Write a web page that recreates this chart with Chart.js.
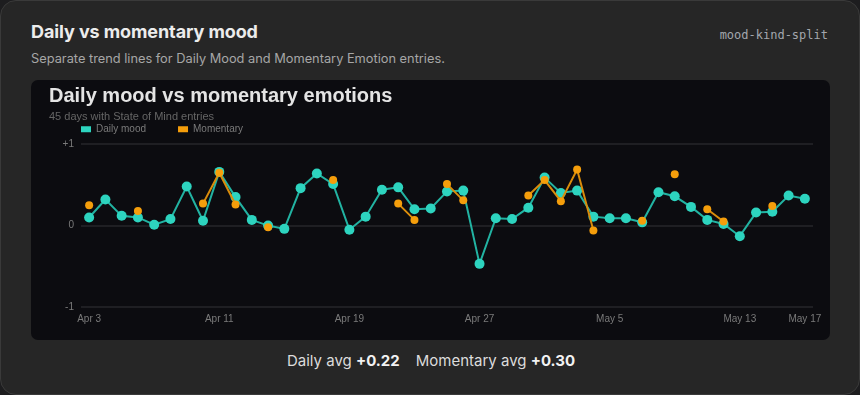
<!DOCTYPE html>
<html>
<head>
<meta charset="utf-8">
<script src="https://cdn.jsdelivr.net/npm/chart.js@4.4.1/dist/chart.umd.min.js"></script>
<style>
  html, body { margin: 0; padding: 0; background: #1d1d1f; }
  body { width: 860px; height: 395px; overflow: hidden; position: relative; font-family: Inter, "Noto Sans", sans-serif; }
  .card {
    position: absolute; left: 0; top: 0; width: 858px; height: 393px;
    background: #262626; border: 1px solid #3a3a3a; border-radius: 16px;
  }
  .head { position: absolute; left: 30px; top: 20px; font-size: 18px; font-weight: 700; color: #ececec; letter-spacing: -0.1px; }
  .tag { position: absolute; right: 31px; top: 27px; font-family: "DejaVu Sans Mono", monospace; font-size: 12px; color: #a3a6ad; }
  .sub { position: absolute; left: 30px; top: 50px; font-size: 12.8px; color: #a6a6a6; }
  .box {
    position: absolute; left: 30px; top: 79px; width: 799px; height: 260px;
    background: #0c0c10; border-radius: 7px;
  }
  .avg { position: absolute; left: 0; width: 860px; top: 350px; text-align: center; font-size: 15px; color: #dcdcdc; }
  .avg b { color: #f2f2f2; font-weight: 700; }
  .avg span + span { margin-left: 16px; }
</style>
</head>
<body>
<div class="card">
  <div class="head">Daily vs momentary mood</div>
  <div class="tag">mood-kind-split</div>
  <div class="sub">Separate trend lines for Daily Mood and Momentary Emotion entries.</div>
  <div class="box"><canvas id="moodChart" width="799" height="260"></canvas></div>
  <div class="avg"><span>Daily avg <b>+0.22</b></span><span>Momentary avg <b>+0.30</b></span></div>
</div>
<script>
let labels = ['Apr 3', 'Apr 4', 'Apr 5', 'Apr 6', 'Apr 7', 'Apr 8', 'Apr 9', 'Apr 10', 'Apr 11', 'Apr 12',
  'Apr 13', 'Apr 14', 'Apr 15', 'Apr 16', 'Apr 17', 'Apr 18', 'Apr 19', 'Apr 20', 'Apr 21', 'Apr 22',
  'Apr 23', 'Apr 24', 'Apr 25', 'Apr 26', 'Apr 27', 'Apr 28', 'Apr 29', 'Apr 30', 'May 1', 'May 2',
  'May 3', 'May 4', 'May 5', 'May 6', 'May 7', 'May 8', 'May 9', 'May 10', 'May 11', 'May 12',
  'May 13', 'May 14', 'May 15', 'May 16', 'May 17'];

let dailyMood = [0.10, 0.32, 0.12, 0.10, 0.01, 0.08, 0.48, 0.06, 0.66, 0.35,
  0.07, 0.00, -0.04, 0.46, 0.64, 0.51, -0.05, 0.11, 0.44, 0.47,
  0.20, 0.21, 0.42, 0.43, -0.47, 0.09, 0.08, 0.22, 0.59, 0.40,
  0.43, 0.11, 0.09, 0.09, 0.04, 0.41, 0.36, 0.23, 0.07, 0.02,
  -0.13, 0.16, 0.17, 0.37, 0.33];

let momentary = [0.25, null, null, 0.18, null, null, null, 0.27, 0.65, 0.26,
  null, -0.02, null, null, null, 0.56, null, null, null, 0.27,
  0.07, null, 0.51, 0.31, null, null, null, 0.37, 0.56, 0.30,
  0.69, -0.06, null, null, 0.06, null, 0.63, null, 0.20, 0.05,
  null, null, 0.24, null, null];

let yTicks = [-1, 0, 1];

// the legend uses wide item spacing; pull it back up so it sits under the subtitle
const legendPad = 32;
const legendTight = {
  id: 'legendTight',
  beforeInit(chart) {
    const fit = chart.legend.fit;
    chart.legend.fit = function () {
      fit.call(this);
      this.height -= legendPad;
    };
  },
  afterLayout(chart) {
    chart.legend.top -= legendPad;
  }
};

let ctx = document.getElementById('moodChart').getContext('2d');
let tickFont = { family: '"Liberation Sans", Arial, sans-serif', size: 10 };

let moodChart = new Chart(ctx, {
  type: 'line',
  data: {
    labels: labels,
    datasets: [{
      label: 'Daily mood',
      data: dailyMood,
      borderColor: '#22b3a2',
      backgroundColor: '#2dd4bf',
      pointBackgroundColor: '#2dd4bf',
      borderWidth: 2,
      pointRadius: 5,
      pointBorderWidth: 0,
      tension: 0,
      order: 1
    }, {
      label: 'Momentary',
      data: momentary,
      borderColor: '#d98c0b',
      backgroundColor: '#f59e0b',
      pointBackgroundColor: '#f59e0b',
      borderWidth: 2,
      pointRadius: 4,
      pointBorderWidth: 0,
      tension: 0,
      spanGaps: false,
      order: 0
    }]
  },
  options: {
    responsive: false,
    animation: false,
    layout: { padding: { left: 18, right: 17, top: 4, bottom: 9 } },
    scales: {
      x: {
        offset: true,
        grid: { display: false, drawTicks: false },
        border: { display: false },
        ticks: {
          autoSkip: false,
          maxRotation: 0,
          padding: 6,
          color: '#7a7a7a',
          font: tickFont,
          callback: (value, i) => (i % 8 === 0 || i === labels.length - 1) ? labels[i] : null
        }
      },
      y: {
        min: yTicks[0],
        max: yTicks[yTicks.length - 1],
        afterBuildTicks: (scale) => { scale.ticks = yTicks.map(v => ({ value: v })); },
        afterFit: (scale) => { scale.width = 32; },
        grid: { color: '#1f1f23', lineWidth: 2, drawTicks: false },
        border: { display: false },
        ticks: {
          padding: 7,
          color: '#7a7a7a',
          font: tickFont,
          callback: (v) => v > 0 ? '+' + v : String(v)
        }
      }
    },
    plugins: {
      title: {
        display: true,
        text: 'Daily mood vs momentary emotions',
        align: 'start',
        color: '#e4e4e4',
        font: { family: '"Liberation Sans", Arial, sans-serif', size: 20, weight: 'bold' },
        padding: { top: 0, bottom: 2 }
      },
      subtitle: {
        display: true,
        text: '45 days with State of Mind entries',
        align: 'start',
        color: '#656565',
        font: { family: '"Liberation Sans", Arial, sans-serif', size: 11 },
        padding: { top: 0, bottom: 1 }
      },
      legend: {
        align: 'start',
        labels: {
          boxWidth: 10,
          boxHeight: 6,
          padding: legendPad,
          color: '#7a7a7a',
          font: { family: '"Liberation Sans", Arial, sans-serif', size: 10 },
          sort: (a, b) => a.datasetIndex - b.datasetIndex,
          generateLabels: (chart) => Chart.defaults.plugins.legend.labels.generateLabels(chart)
            .map(item => Object.assign(item, { lineWidth: 0 }))
        }
      },
      tooltip: { enabled: false }
    }
  },
  plugins: [legendTight]
});
</script>
</body>
</html>
